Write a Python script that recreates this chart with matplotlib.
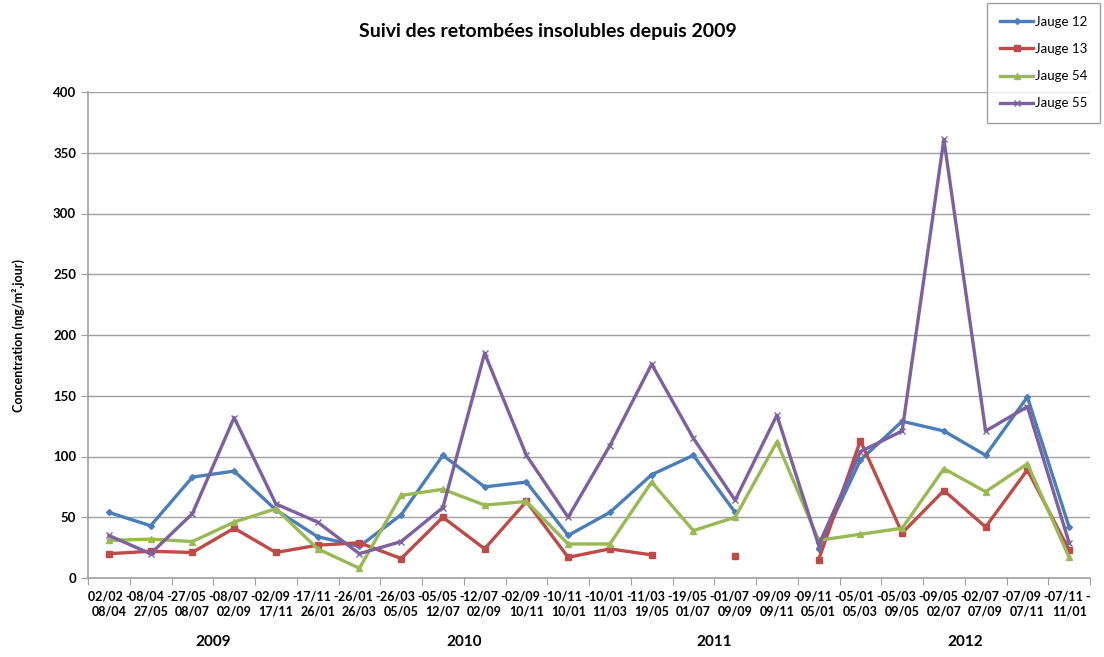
import matplotlib.pyplot as plt
import numpy as np

nan = np.nan

# periodes de prelevement
periodes = ['02/02 -\n08/04', '08/04 -\n27/05', '27/05 -\n08/07', '08/07 -\n02/09',
            '02/09 -\n17/11', '17/11 -\n26/01', '26/01 -\n26/03', '26/03 -\n05/05',
            '05/05 -\n12/07', '12/07 -\n02/09', '02/09 -\n10/11', '10/11 -\n10/01',
            '10/01 -\n11/03', '11/03 -\n19/05', '19/05 -\n01/07', '01/07 -\n09/09',
            '09/09 -\n09/11', '09/11 -\n05/01', '05/01 -\n05/03', '05/03 -\n09/05',
            '09/05 -\n02/07', '02/07 -\n07/09', '07/09 -\n07/11', '07/11 -\n11/01']
annees = ['2009', '2010', '2011', '2012']

jauge12 = [54, 43, 83, 88, 56, 34, 26, 52, 101, 75, 79, 35,
           54, 85, 101, 54, nan, 24, 97, 129, 121, 101, 149, 42]
jauge13 = [20, 22, 21, 41, 21, 27, 29, 16, 50, 24, 63, 17,
           24, 19, nan, 18, nan, 15, 113, 37, 72, 42, 89, 23]
jauge54 = [31, 32, 30, 46, 57, 24, 8, 68, 73, 60, 63, 28,
           28, 79, 39, 50, 112, 31, 36, 41, 90, 71, 94, 17]
jauge55 = [35, 20, 53, 132, 61, 46, 20, 30, 58, 185, 101, 50,
           109, 176, 115, 64, 134, 27, 104, 121, 361, 121, 141, 29]

plt.rcParams['font.family'] = ['Lato', 'DejaVu Sans']

fig = plt.figure(figsize=(11.04, 6.57), dpi=100)
ax = fig.add_axes([88 / 1104, 1 - 578 / 657, 1002 / 1104, 486 / 657])

x = np.arange(len(periodes))
ax.plot(x, jauge12, color='#4a7ebb', lw=2.4, marker='D', ms=3, label='Jauge 12')
ax.plot(x, jauge13, color='#be4b48', lw=2.4, marker='s', ms=4, label='Jauge 13')
ax.plot(x, jauge54, color='#98b954', lw=2.4, marker='^', ms=4, label='Jauge 54')
ax.plot(x, jauge55, color='#7d60a0', lw=2.4, marker='x', ms=4, mew=1, label='Jauge 55')

ax.set_xlim(-0.5, len(periodes) - 0.5)
ax.set_ylim(0, 400)
ax.set_yticks(range(0, 401, 50))
ax.yaxis.grid(True, color='#a0a0a0', lw=1)
ax.set_axisbelow(True)
for s in ['top', 'right']:
    ax.spines[s].set_visible(False)
for s in ['left', 'bottom']:
    ax.spines[s].set_color('#a0a0a0')
    ax.spines[s].set_linewidth(1.2)

# ticks entre les categories
ax.set_xticks(np.arange(-0.5, len(periodes), 1))
ax.set_xticklabels([])
ax.set_xticks(x, minor=True)
ax.set_xticklabels(periodes, minor=True, fontsize=9, fontweight='bold', linespacing=1.25)
ax.tick_params(axis='x', which='major', length=5, color='#a0a0a0')
ax.tick_params(axis='x', which='minor', length=0, pad=9)
ax.tick_params(axis='y', length=5, color='#a0a0a0', labelsize=9.5)
for t in ax.get_yticklabels():
    t.set_fontweight('bold')

for i, a in enumerate(annees):
    ax.text(i * 6 + 2.5, -0.132, a, transform=ax.get_xaxis_transform(),
            ha='center', va='center', fontsize=11, fontweight='bold')

ax.set_ylabel('Concentration (mg/m².jour)', fontsize=9, fontweight='bold', labelpad=20)
fig.text(548 / 1104, 1 - 32 / 657, 'Suivi des retombées insolubles depuis 2009',
         ha='center', va='center', fontsize=14, fontweight='bold')

leg = fig.legend(loc='upper right', bbox_to_anchor=(1103 / 1104, 1.0), fancybox=False,
                 edgecolor='#888888', fontsize=9.5, handlelength=2.5, labelspacing=1.15,
                 borderpad=1.0, handletextpad=0.1, borderaxespad=0.2)
leg.get_frame().set_linewidth(1)

plt.savefig('out.png', dpi=100)
